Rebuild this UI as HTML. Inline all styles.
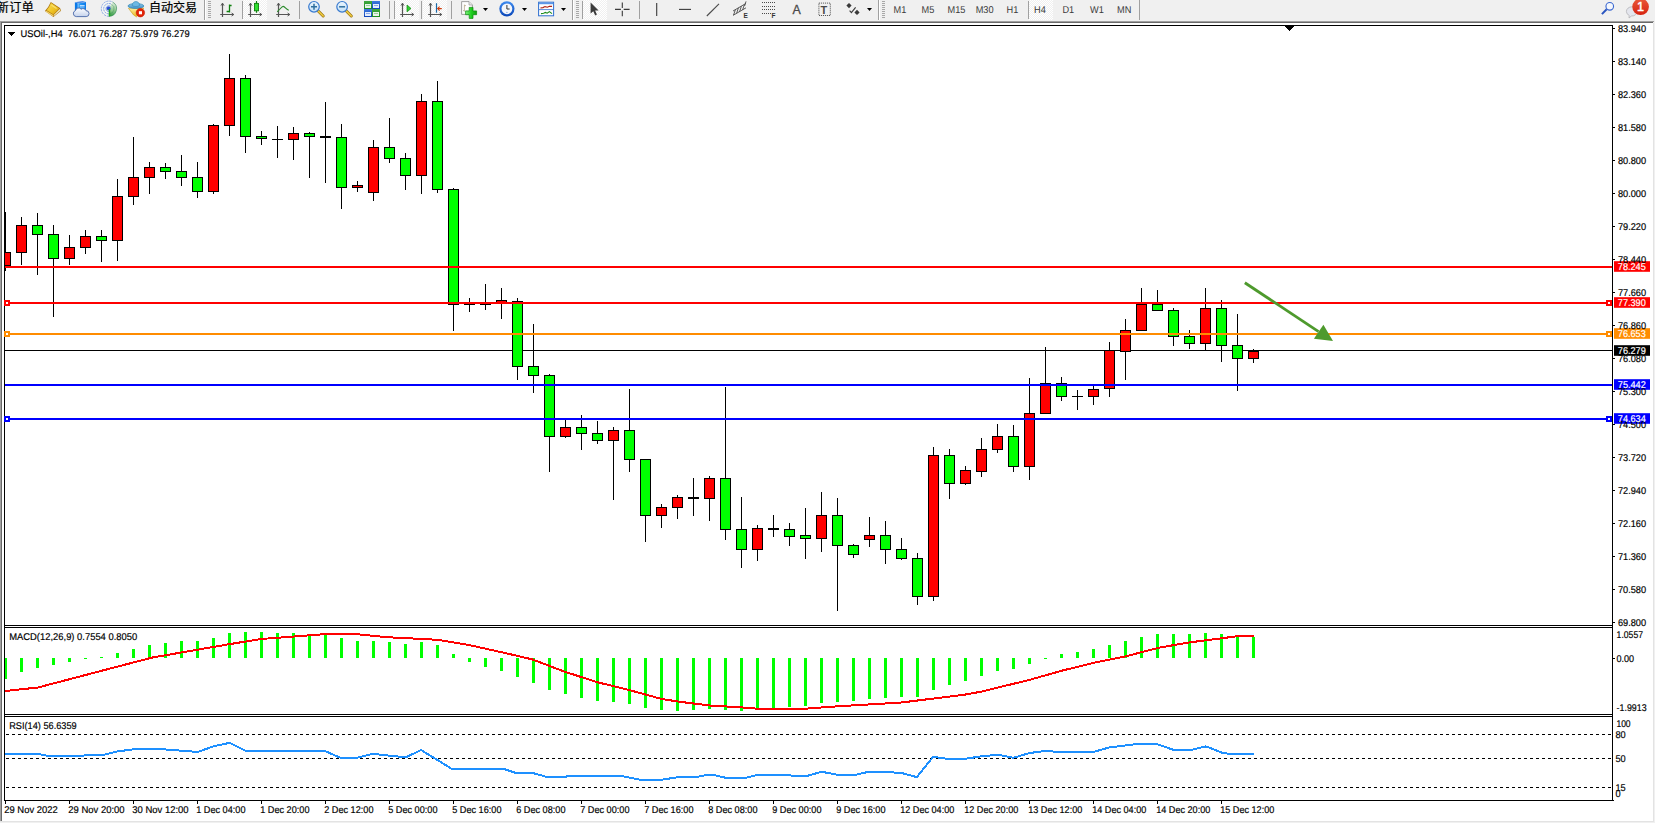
<!DOCTYPE html>
<html lang="zh-CN">
<head>
<meta charset="utf-8">
<title>USOil-,H4</title>
<style>
html,body{margin:0;padding:0;}
body{width:1655px;height:823px;overflow:hidden;background:#f0f0f0;position:relative;font-family:"Liberation Sans", "Noto Sans CJK SC", sans-serif;}
.white{position:absolute;left:2px;top:23px;width:1651px;height:798px;background:#fff;}
.edge-t1{position:absolute;left:0;top:21px;width:1654px;height:1px;background:#a0a0a0;}
.edge-t2{position:absolute;left:0;top:22px;width:1653px;height:1px;background:#696969;}
.edge-l1{position:absolute;left:0;top:21px;width:1px;height:800px;background:#a0a0a0;}
.edge-l2{position:absolute;left:1px;top:22px;width:1px;height:799px;background:#696969;}
.edge-r{position:absolute;left:1653px;top:23px;width:1px;height:799px;background:#e3e3e3;}
.edge-b{position:absolute;left:0;top:821px;width:1654px;height:1px;background:#e3e3e3;}
.chart{position:absolute;left:0;top:0;}
.tb{position:absolute;left:0;top:0;width:1655px;height:21px;background:#f0f0f0;overflow:hidden;}
</style>
</head>
<body>
<div class="white"></div>
<div class="edge-t1"></div><div class="edge-t2"></div>
<div class="edge-l1"></div><div class="edge-l2"></div>
<div class="edge-r"></div><div class="edge-b"></div>
<svg class="chart" width="1655" height="823" viewBox="0 0 1655 823">
<g shape-rendering="crispEdges">
<rect x="4" y="25" width="1609" height="1" fill="#000"/>
<rect x="4" y="25" width="1" height="776" fill="#000"/>
<rect x="1612" y="25" width="1" height="776" fill="#000"/>
<rect x="4" y="625" width="1609" height="1" fill="#000"/>
<rect x="4" y="627" width="1609" height="1" fill="#000"/>
<rect x="4" y="714" width="1609" height="1" fill="#000"/>
<rect x="4" y="716" width="1609" height="1" fill="#000"/>
<rect x="4" y="800" width="1610" height="1" fill="#000"/>
<rect x="5" y="350" width="1607" height="1" fill="#000"/>
<rect x="1613" y="28" width="2" height="1" fill="#000"/>
<rect x="1613" y="61" width="2" height="1" fill="#000"/>
<rect x="1613" y="94" width="2" height="1" fill="#000"/>
<rect x="1613" y="127" width="2" height="1" fill="#000"/>
<rect x="1613" y="160" width="2" height="1" fill="#000"/>
<rect x="1613" y="193" width="2" height="1" fill="#000"/>
<rect x="1613" y="226" width="2" height="1" fill="#000"/>
<rect x="1613" y="259" width="2" height="1" fill="#000"/>
<rect x="1613" y="292" width="2" height="1" fill="#000"/>
<rect x="1613" y="325" width="2" height="1" fill="#000"/>
<rect x="1613" y="358" width="2" height="1" fill="#000"/>
<rect x="1613" y="391" width="2" height="1" fill="#000"/>
<rect x="1613" y="424" width="2" height="1" fill="#000"/>
<rect x="1613" y="457" width="2" height="1" fill="#000"/>
<rect x="1613" y="490" width="2" height="1" fill="#000"/>
<rect x="1613" y="523" width="2" height="1" fill="#000"/>
<rect x="1613" y="556" width="2" height="1" fill="#000"/>
<rect x="1613" y="589" width="2" height="1" fill="#000"/>
<rect x="1613" y="622" width="2" height="1" fill="#000"/>
<rect x="1613" y="658" width="2" height="1" fill="#000"/>
<rect x="5" y="801" width="1" height="3" fill="#000"/>
<rect x="69" y="801" width="1" height="3" fill="#000"/>
<rect x="133" y="801" width="1" height="3" fill="#000"/>
<rect x="197" y="801" width="1" height="3" fill="#000"/>
<rect x="261" y="801" width="1" height="3" fill="#000"/>
<rect x="325" y="801" width="1" height="3" fill="#000"/>
<rect x="389" y="801" width="1" height="3" fill="#000"/>
<rect x="453" y="801" width="1" height="3" fill="#000"/>
<rect x="517" y="801" width="1" height="3" fill="#000"/>
<rect x="581" y="801" width="1" height="3" fill="#000"/>
<rect x="645" y="801" width="1" height="3" fill="#000"/>
<rect x="709" y="801" width="1" height="3" fill="#000"/>
<rect x="773" y="801" width="1" height="3" fill="#000"/>
<rect x="837" y="801" width="1" height="3" fill="#000"/>
<rect x="901" y="801" width="1" height="3" fill="#000"/>
<rect x="965" y="801" width="1" height="3" fill="#000"/>
<rect x="1029" y="801" width="1" height="3" fill="#000"/>
<rect x="1093" y="801" width="1" height="3" fill="#000"/>
<rect x="1157" y="801" width="1" height="3" fill="#000"/>
<rect x="1221" y="801" width="1" height="3" fill="#000"/>
<rect x="5" y="212" width="1" height="59" fill="#000"/>
<rect x="5" y="252" width="6" height="14" fill="#000"/>
<rect x="5" y="253" width="5" height="12" fill="#ff0000"/>
<rect x="21" y="217" width="1" height="48" fill="#000"/>
<rect x="16" y="225" width="11" height="28" fill="#000"/>
<rect x="17" y="226" width="9" height="26" fill="#ff0000"/>
<rect x="37" y="213" width="1" height="62" fill="#000"/>
<rect x="32" y="225" width="11" height="10" fill="#000"/>
<rect x="33" y="226" width="9" height="8" fill="#00ff00"/>
<rect x="53" y="225" width="1" height="92" fill="#000"/>
<rect x="48" y="234" width="11" height="25" fill="#000"/>
<rect x="49" y="235" width="9" height="23" fill="#00ff00"/>
<rect x="69" y="235" width="1" height="30" fill="#000"/>
<rect x="64" y="247" width="11" height="12" fill="#000"/>
<rect x="65" y="248" width="9" height="10" fill="#ff0000"/>
<rect x="85" y="230" width="1" height="24" fill="#000"/>
<rect x="80" y="236" width="11" height="12" fill="#000"/>
<rect x="81" y="237" width="9" height="10" fill="#ff0000"/>
<rect x="101" y="230" width="1" height="32" fill="#000"/>
<rect x="96" y="236" width="11" height="5" fill="#000"/>
<rect x="97" y="237" width="9" height="3" fill="#00ff00"/>
<rect x="117" y="179" width="1" height="82" fill="#000"/>
<rect x="112" y="196" width="11" height="45" fill="#000"/>
<rect x="113" y="197" width="9" height="43" fill="#ff0000"/>
<rect x="133" y="137" width="1" height="68" fill="#000"/>
<rect x="128" y="177" width="11" height="20" fill="#000"/>
<rect x="129" y="178" width="9" height="18" fill="#ff0000"/>
<rect x="149" y="162" width="1" height="32" fill="#000"/>
<rect x="144" y="167" width="11" height="11" fill="#000"/>
<rect x="145" y="168" width="9" height="9" fill="#ff0000"/>
<rect x="165" y="163" width="1" height="16" fill="#000"/>
<rect x="160" y="167" width="11" height="5" fill="#000"/>
<rect x="161" y="168" width="9" height="3" fill="#00ff00"/>
<rect x="181" y="155" width="1" height="31" fill="#000"/>
<rect x="176" y="171" width="11" height="7" fill="#000"/>
<rect x="177" y="172" width="9" height="5" fill="#00ff00"/>
<rect x="197" y="162" width="1" height="36" fill="#000"/>
<rect x="192" y="177" width="11" height="15" fill="#000"/>
<rect x="193" y="178" width="9" height="13" fill="#00ff00"/>
<rect x="213" y="124" width="1" height="70" fill="#000"/>
<rect x="208" y="125" width="11" height="67" fill="#000"/>
<rect x="209" y="126" width="9" height="65" fill="#ff0000"/>
<rect x="229" y="54" width="1" height="82" fill="#000"/>
<rect x="224" y="78" width="11" height="48" fill="#000"/>
<rect x="225" y="79" width="9" height="46" fill="#ff0000"/>
<rect x="245" y="75" width="1" height="78" fill="#000"/>
<rect x="240" y="78" width="11" height="59" fill="#000"/>
<rect x="241" y="79" width="9" height="57" fill="#00ff00"/>
<rect x="261" y="131" width="1" height="14" fill="#000"/>
<rect x="256" y="136" width="11" height="3" fill="#000"/>
<rect x="257" y="137" width="9" height="1" fill="#00ff00"/>
<rect x="277" y="126" width="1" height="32" fill="#000"/>
<rect x="272" y="139" width="11" height="1" fill="#000"/>
<rect x="293" y="127" width="1" height="33" fill="#000"/>
<rect x="288" y="133" width="11" height="7" fill="#000"/>
<rect x="289" y="134" width="9" height="5" fill="#ff0000"/>
<rect x="309" y="132" width="1" height="46" fill="#000"/>
<rect x="304" y="133" width="11" height="4" fill="#000"/>
<rect x="305" y="134" width="9" height="2" fill="#00ff00"/>
<rect x="325" y="102" width="1" height="81" fill="#000"/>
<rect x="320" y="136" width="11" height="2" fill="#000"/>
<rect x="341" y="124" width="1" height="85" fill="#000"/>
<rect x="336" y="137" width="11" height="51" fill="#000"/>
<rect x="337" y="138" width="9" height="49" fill="#00ff00"/>
<rect x="357" y="181" width="1" height="11" fill="#000"/>
<rect x="352" y="185" width="11" height="3" fill="#000"/>
<rect x="353" y="186" width="9" height="1" fill="#ff0000"/>
<rect x="373" y="140" width="1" height="61" fill="#000"/>
<rect x="368" y="147" width="11" height="46" fill="#000"/>
<rect x="369" y="148" width="9" height="44" fill="#ff0000"/>
<rect x="389" y="118" width="1" height="45" fill="#000"/>
<rect x="384" y="147" width="11" height="12" fill="#000"/>
<rect x="385" y="148" width="9" height="10" fill="#00ff00"/>
<rect x="405" y="153" width="1" height="37" fill="#000"/>
<rect x="400" y="158" width="11" height="18" fill="#000"/>
<rect x="401" y="159" width="9" height="16" fill="#00ff00"/>
<rect x="421" y="94" width="1" height="100" fill="#000"/>
<rect x="416" y="101" width="11" height="75" fill="#000"/>
<rect x="417" y="102" width="9" height="73" fill="#ff0000"/>
<rect x="437" y="81" width="1" height="112" fill="#000"/>
<rect x="432" y="101" width="11" height="89" fill="#000"/>
<rect x="433" y="102" width="9" height="87" fill="#00ff00"/>
<rect x="453" y="188" width="1" height="143" fill="#000"/>
<rect x="448" y="189" width="11" height="116" fill="#000"/>
<rect x="449" y="190" width="9" height="114" fill="#00ff00"/>
<rect x="469" y="298" width="1" height="14" fill="#000"/>
<rect x="464" y="304" width="11" height="1" fill="#000"/>
<rect x="485" y="284" width="1" height="26" fill="#000"/>
<rect x="480" y="304" width="11" height="1" fill="#000"/>
<rect x="501" y="288" width="1" height="31" fill="#000"/>
<rect x="496" y="300" width="11" height="3" fill="#000"/>
<rect x="497" y="301" width="9" height="1" fill="#ff0000"/>
<rect x="517" y="298" width="1" height="82" fill="#000"/>
<rect x="512" y="301" width="11" height="66" fill="#000"/>
<rect x="513" y="302" width="9" height="64" fill="#00ff00"/>
<rect x="533" y="324" width="1" height="69" fill="#000"/>
<rect x="528" y="366" width="11" height="10" fill="#000"/>
<rect x="529" y="367" width="9" height="8" fill="#00ff00"/>
<rect x="549" y="374" width="1" height="98" fill="#000"/>
<rect x="544" y="375" width="11" height="62" fill="#000"/>
<rect x="545" y="376" width="9" height="60" fill="#00ff00"/>
<rect x="565" y="420" width="1" height="18" fill="#000"/>
<rect x="560" y="427" width="11" height="10" fill="#000"/>
<rect x="561" y="428" width="9" height="8" fill="#ff0000"/>
<rect x="581" y="415" width="1" height="35" fill="#000"/>
<rect x="576" y="427" width="11" height="7" fill="#000"/>
<rect x="577" y="428" width="9" height="5" fill="#00ff00"/>
<rect x="597" y="421" width="1" height="23" fill="#000"/>
<rect x="592" y="433" width="11" height="8" fill="#000"/>
<rect x="593" y="434" width="9" height="6" fill="#00ff00"/>
<rect x="613" y="427" width="1" height="73" fill="#000"/>
<rect x="608" y="430" width="11" height="11" fill="#000"/>
<rect x="609" y="431" width="9" height="9" fill="#ff0000"/>
<rect x="629" y="389" width="1" height="83" fill="#000"/>
<rect x="624" y="430" width="11" height="30" fill="#000"/>
<rect x="625" y="431" width="9" height="28" fill="#00ff00"/>
<rect x="645" y="459" width="1" height="83" fill="#000"/>
<rect x="640" y="459" width="11" height="57" fill="#000"/>
<rect x="641" y="460" width="9" height="55" fill="#00ff00"/>
<rect x="661" y="504" width="1" height="24" fill="#000"/>
<rect x="656" y="507" width="11" height="9" fill="#000"/>
<rect x="657" y="508" width="9" height="7" fill="#ff0000"/>
<rect x="677" y="495" width="1" height="24" fill="#000"/>
<rect x="672" y="497" width="11" height="11" fill="#000"/>
<rect x="673" y="498" width="9" height="9" fill="#ff0000"/>
<rect x="693" y="478" width="1" height="38" fill="#000"/>
<rect x="688" y="497" width="11" height="2" fill="#000"/>
<rect x="709" y="476" width="1" height="45" fill="#000"/>
<rect x="704" y="478" width="11" height="21" fill="#000"/>
<rect x="705" y="479" width="9" height="19" fill="#ff0000"/>
<rect x="725" y="387" width="1" height="153" fill="#000"/>
<rect x="720" y="478" width="11" height="52" fill="#000"/>
<rect x="721" y="479" width="9" height="50" fill="#00ff00"/>
<rect x="741" y="497" width="1" height="71" fill="#000"/>
<rect x="736" y="529" width="11" height="21" fill="#000"/>
<rect x="737" y="530" width="9" height="19" fill="#00ff00"/>
<rect x="757" y="525" width="1" height="36" fill="#000"/>
<rect x="752" y="528" width="11" height="22" fill="#000"/>
<rect x="753" y="529" width="9" height="20" fill="#ff0000"/>
<rect x="773" y="515" width="1" height="22" fill="#000"/>
<rect x="768" y="528" width="11" height="2" fill="#000"/>
<rect x="789" y="523" width="1" height="23" fill="#000"/>
<rect x="784" y="529" width="11" height="8" fill="#000"/>
<rect x="785" y="530" width="9" height="6" fill="#00ff00"/>
<rect x="805" y="508" width="1" height="51" fill="#000"/>
<rect x="800" y="535" width="11" height="4" fill="#000"/>
<rect x="801" y="536" width="9" height="2" fill="#00ff00"/>
<rect x="821" y="492" width="1" height="60" fill="#000"/>
<rect x="816" y="515" width="11" height="24" fill="#000"/>
<rect x="817" y="516" width="9" height="22" fill="#ff0000"/>
<rect x="837" y="498" width="1" height="113" fill="#000"/>
<rect x="832" y="515" width="11" height="31" fill="#000"/>
<rect x="833" y="516" width="9" height="29" fill="#00ff00"/>
<rect x="853" y="544" width="1" height="14" fill="#000"/>
<rect x="848" y="545" width="11" height="10" fill="#000"/>
<rect x="849" y="546" width="9" height="8" fill="#00ff00"/>
<rect x="869" y="517" width="1" height="30" fill="#000"/>
<rect x="864" y="535" width="11" height="5" fill="#000"/>
<rect x="865" y="536" width="9" height="3" fill="#ff0000"/>
<rect x="885" y="521" width="1" height="43" fill="#000"/>
<rect x="880" y="535" width="11" height="15" fill="#000"/>
<rect x="881" y="536" width="9" height="13" fill="#00ff00"/>
<rect x="901" y="538" width="1" height="22" fill="#000"/>
<rect x="896" y="549" width="11" height="10" fill="#000"/>
<rect x="897" y="550" width="9" height="8" fill="#00ff00"/>
<rect x="917" y="553" width="1" height="52" fill="#000"/>
<rect x="912" y="558" width="11" height="39" fill="#000"/>
<rect x="913" y="559" width="9" height="37" fill="#00ff00"/>
<rect x="933" y="447" width="1" height="154" fill="#000"/>
<rect x="928" y="455" width="11" height="142" fill="#000"/>
<rect x="929" y="456" width="9" height="140" fill="#ff0000"/>
<rect x="949" y="449" width="1" height="50" fill="#000"/>
<rect x="944" y="455" width="11" height="29" fill="#000"/>
<rect x="945" y="456" width="9" height="27" fill="#00ff00"/>
<rect x="965" y="466" width="1" height="19" fill="#000"/>
<rect x="960" y="470" width="11" height="14" fill="#000"/>
<rect x="961" y="471" width="9" height="12" fill="#ff0000"/>
<rect x="981" y="438" width="1" height="39" fill="#000"/>
<rect x="976" y="449" width="11" height="23" fill="#000"/>
<rect x="977" y="450" width="9" height="21" fill="#ff0000"/>
<rect x="997" y="424" width="1" height="29" fill="#000"/>
<rect x="992" y="436" width="11" height="14" fill="#000"/>
<rect x="993" y="437" width="9" height="12" fill="#ff0000"/>
<rect x="1013" y="425" width="1" height="47" fill="#000"/>
<rect x="1008" y="436" width="11" height="31" fill="#000"/>
<rect x="1009" y="437" width="9" height="29" fill="#00ff00"/>
<rect x="1029" y="378" width="1" height="102" fill="#000"/>
<rect x="1024" y="413" width="11" height="54" fill="#000"/>
<rect x="1025" y="414" width="9" height="52" fill="#ff0000"/>
<rect x="1045" y="347" width="1" height="67" fill="#000"/>
<rect x="1040" y="383" width="11" height="31" fill="#000"/>
<rect x="1041" y="384" width="9" height="29" fill="#ff0000"/>
<rect x="1061" y="377" width="1" height="24" fill="#000"/>
<rect x="1056" y="383" width="11" height="14" fill="#000"/>
<rect x="1057" y="384" width="9" height="12" fill="#00ff00"/>
<rect x="1077" y="390" width="1" height="20" fill="#000"/>
<rect x="1072" y="396" width="11" height="1" fill="#000"/>
<rect x="1093" y="386" width="1" height="19" fill="#000"/>
<rect x="1088" y="389" width="11" height="8" fill="#000"/>
<rect x="1089" y="390" width="9" height="6" fill="#ff0000"/>
<rect x="1109" y="342" width="1" height="55" fill="#000"/>
<rect x="1104" y="350" width="11" height="39" fill="#000"/>
<rect x="1105" y="351" width="9" height="37" fill="#ff0000"/>
<rect x="1125" y="319" width="1" height="61" fill="#000"/>
<rect x="1120" y="330" width="11" height="22" fill="#000"/>
<rect x="1121" y="331" width="9" height="20" fill="#ff0000"/>
<rect x="1141" y="288" width="1" height="43" fill="#000"/>
<rect x="1136" y="304" width="11" height="27" fill="#000"/>
<rect x="1137" y="305" width="9" height="25" fill="#ff0000"/>
<rect x="1157" y="290" width="1" height="21" fill="#000"/>
<rect x="1152" y="304" width="11" height="7" fill="#000"/>
<rect x="1153" y="305" width="9" height="5" fill="#00ff00"/>
<rect x="1173" y="308" width="1" height="38" fill="#000"/>
<rect x="1168" y="310" width="11" height="27" fill="#000"/>
<rect x="1169" y="311" width="9" height="25" fill="#00ff00"/>
<rect x="1189" y="330" width="1" height="19" fill="#000"/>
<rect x="1184" y="336" width="11" height="8" fill="#000"/>
<rect x="1185" y="337" width="9" height="6" fill="#00ff00"/>
<rect x="1205" y="288" width="1" height="63" fill="#000"/>
<rect x="1200" y="308" width="11" height="36" fill="#000"/>
<rect x="1201" y="309" width="9" height="34" fill="#ff0000"/>
<rect x="1221" y="300" width="1" height="62" fill="#000"/>
<rect x="1216" y="308" width="11" height="38" fill="#000"/>
<rect x="1217" y="309" width="9" height="36" fill="#00ff00"/>
<rect x="1237" y="314" width="1" height="77" fill="#000"/>
<rect x="1232" y="345" width="11" height="14" fill="#000"/>
<rect x="1233" y="346" width="9" height="12" fill="#00ff00"/>
<rect x="1253" y="349" width="1" height="14" fill="#000"/>
<rect x="1248" y="351" width="11" height="8" fill="#000"/>
<rect x="1249" y="352" width="9" height="6" fill="#ff0000"/>
<rect x="5" y="658" width="2" height="21" fill="#00ff00"/>
<rect x="20" y="658" width="3" height="14" fill="#00ff00"/>
<rect x="36" y="658" width="3" height="10" fill="#00ff00"/>
<rect x="52" y="658" width="3" height="7" fill="#00ff00"/>
<rect x="68" y="658" width="3" height="4" fill="#00ff00"/>
<rect x="84" y="658" width="3" height="1" fill="#00ff00"/>
<rect x="100" y="657" width="3" height="1" fill="#00ff00"/>
<rect x="116" y="653" width="3" height="5" fill="#00ff00"/>
<rect x="132" y="649" width="3" height="9" fill="#00ff00"/>
<rect x="148" y="645" width="3" height="13" fill="#00ff00"/>
<rect x="164" y="643" width="3" height="15" fill="#00ff00"/>
<rect x="180" y="641" width="3" height="17" fill="#00ff00"/>
<rect x="196" y="641" width="3" height="17" fill="#00ff00"/>
<rect x="212" y="638" width="3" height="20" fill="#00ff00"/>
<rect x="228" y="633" width="3" height="25" fill="#00ff00"/>
<rect x="244" y="632" width="3" height="26" fill="#00ff00"/>
<rect x="260" y="632" width="3" height="26" fill="#00ff00"/>
<rect x="276" y="633" width="3" height="25" fill="#00ff00"/>
<rect x="292" y="633" width="3" height="25" fill="#00ff00"/>
<rect x="308" y="635" width="3" height="23" fill="#00ff00"/>
<rect x="324" y="635" width="3" height="23" fill="#00ff00"/>
<rect x="340" y="638" width="3" height="20" fill="#00ff00"/>
<rect x="356" y="641" width="3" height="17" fill="#00ff00"/>
<rect x="372" y="641" width="3" height="17" fill="#00ff00"/>
<rect x="388" y="642" width="3" height="16" fill="#00ff00"/>
<rect x="404" y="644" width="3" height="14" fill="#00ff00"/>
<rect x="420" y="642" width="3" height="16" fill="#00ff00"/>
<rect x="436" y="645" width="3" height="13" fill="#00ff00"/>
<rect x="452" y="654" width="3" height="4" fill="#00ff00"/>
<rect x="468" y="658" width="3" height="4" fill="#00ff00"/>
<rect x="484" y="658" width="3" height="9" fill="#00ff00"/>
<rect x="500" y="658" width="3" height="13" fill="#00ff00"/>
<rect x="516" y="658" width="3" height="19" fill="#00ff00"/>
<rect x="532" y="658" width="3" height="25" fill="#00ff00"/>
<rect x="548" y="658" width="3" height="32" fill="#00ff00"/>
<rect x="564" y="658" width="3" height="36" fill="#00ff00"/>
<rect x="580" y="658" width="3" height="40" fill="#00ff00"/>
<rect x="596" y="658" width="3" height="43" fill="#00ff00"/>
<rect x="612" y="658" width="3" height="44" fill="#00ff00"/>
<rect x="628" y="658" width="3" height="46" fill="#00ff00"/>
<rect x="644" y="658" width="3" height="50" fill="#00ff00"/>
<rect x="660" y="658" width="3" height="52" fill="#00ff00"/>
<rect x="676" y="658" width="3" height="53" fill="#00ff00"/>
<rect x="692" y="658" width="3" height="52" fill="#00ff00"/>
<rect x="708" y="658" width="3" height="51" fill="#00ff00"/>
<rect x="724" y="658" width="3" height="52" fill="#00ff00"/>
<rect x="740" y="658" width="3" height="53" fill="#00ff00"/>
<rect x="756" y="658" width="3" height="52" fill="#00ff00"/>
<rect x="772" y="658" width="3" height="51" fill="#00ff00"/>
<rect x="788" y="658" width="3" height="49" fill="#00ff00"/>
<rect x="804" y="658" width="3" height="48" fill="#00ff00"/>
<rect x="820" y="658" width="3" height="45" fill="#00ff00"/>
<rect x="836" y="658" width="3" height="44" fill="#00ff00"/>
<rect x="852" y="658" width="3" height="43" fill="#00ff00"/>
<rect x="868" y="658" width="3" height="41" fill="#00ff00"/>
<rect x="884" y="658" width="3" height="40" fill="#00ff00"/>
<rect x="900" y="658" width="3" height="39" fill="#00ff00"/>
<rect x="916" y="658" width="3" height="39" fill="#00ff00"/>
<rect x="932" y="658" width="3" height="32" fill="#00ff00"/>
<rect x="948" y="658" width="3" height="27" fill="#00ff00"/>
<rect x="964" y="658" width="3" height="23" fill="#00ff00"/>
<rect x="980" y="658" width="3" height="18" fill="#00ff00"/>
<rect x="996" y="658" width="3" height="13" fill="#00ff00"/>
<rect x="1012" y="658" width="3" height="11" fill="#00ff00"/>
<rect x="1028" y="658" width="3" height="6" fill="#00ff00"/>
<rect x="1044" y="658" width="3" height="1" fill="#00ff00"/>
<rect x="1060" y="654" width="3" height="4" fill="#00ff00"/>
<rect x="1076" y="652" width="3" height="6" fill="#00ff00"/>
<rect x="1092" y="649" width="3" height="9" fill="#00ff00"/>
<rect x="1108" y="645" width="3" height="13" fill="#00ff00"/>
<rect x="1124" y="641" width="3" height="17" fill="#00ff00"/>
<rect x="1140" y="637" width="3" height="21" fill="#00ff00"/>
<rect x="1156" y="634" width="3" height="24" fill="#00ff00"/>
<rect x="1172" y="634" width="3" height="24" fill="#00ff00"/>
<rect x="1188" y="634" width="3" height="24" fill="#00ff00"/>
<rect x="1204" y="633" width="3" height="25" fill="#00ff00"/>
<rect x="1220" y="634" width="3" height="24" fill="#00ff00"/>
<rect x="1236" y="635" width="3" height="23" fill="#00ff00"/>
<rect x="1252" y="637" width="3" height="21" fill="#00ff00"/>
<path d="M6 734.5H1612" stroke="#000" stroke-width="1" stroke-dasharray="3 3" fill="none"/>
<path d="M6 758.5H1612" stroke="#000" stroke-width="1" stroke-dasharray="3 3" fill="none"/>
<path d="M6 787.5H1612" stroke="#000" stroke-width="1" stroke-dasharray="3 3" fill="none"/>
</g>
<polyline shape-rendering="crispEdges" fill="none" stroke="#ff0000" stroke-width="2" stroke-linejoin="round" points="5,691 38,687.5 101.5,670.8 152,657.6 228,644.4 261,639 294,636.5 327,634 355,634 388,637.3 400,637.8 438,639.8 468.5,644.9 501.5,652.2 532,659.3 565,671.8 598,682.4 628.4,689.8 661.4,698.9 679,701.7 709.6,705.5 740,707.3 758,708.8 803.5,708.8 838,706.3 901.5,702.5 932,698.7 965,694.6 981.5,691.6 998,687.5 1028.4,680.2 1061.4,670.8 1094.4,662.6 1125,656.5 1158,647.9 1188,642.6 1220,638.5 1239,636 1253.5,636"/>
<polyline shape-rendering="crispEdges" fill="none" stroke="#1e90ff" stroke-width="2" stroke-linejoin="round" points="5,754.5 15,753.5 35.5,753.5 48,755.8 76,755.8 104,754.8 117,751.5 134.5,749.2 162.5,749.2 198,752 213,746.4 229.7,742.8 246,751 325,751 340,757.6 358,757.6 373,753.8 388,755.5 403.5,757 406,757.3 421,750 435.5,758.8 452,769 504,769 515.5,772.8 532,772.8 547,777 565,777 569,775.8 621,775.8 641,780 660,780 679,777 697,777 707,774.8 713.5,774.8 726,777.9 745,777.9 758,774.8 788,774.8 792,775.8 807.6,775.8 821.6,771.8 838,774.8 856,774.8 868.5,771.8 883.8,771.8 901.5,773 916.8,777.1 933.2,756.8 947.2,758.8 965,758.8 981.5,756.3 998,754.8 1013.2,757.8 1029.7,753 1045,751 1061.4,752 1093,752 1109.6,747.4 1137.6,743.9 1156.6,743.9 1173,749.7 1192,749.7 1206,746.4 1222,752.7 1229,753.9 1253.5,753.9"/>
<g shape-rendering="crispEdges">
<rect x="5" y="266" width="1607" height="2" fill="#ff0000"/>
<rect x="5" y="302" width="1607" height="2" fill="#ff0000"/>
<rect x="4" y="300" width="6" height="6" fill="#ff0000"/>
<rect x="6" y="302" width="2" height="2" fill="#fff"/>
<rect x="1606" y="300" width="6" height="6" fill="#ff0000"/>
<rect x="1608" y="302" width="2" height="2" fill="#fff"/>
<rect x="5" y="333" width="1607" height="2" fill="#ff8c00"/>
<rect x="4" y="331" width="6" height="6" fill="#ff8c00"/>
<rect x="6" y="333" width="2" height="2" fill="#fff"/>
<rect x="1606" y="331" width="6" height="6" fill="#ff8c00"/>
<rect x="1608" y="333" width="2" height="2" fill="#fff"/>
<rect x="5" y="384" width="1607" height="2" fill="#0000ff"/>
<rect x="5" y="418" width="1607" height="2" fill="#0000ff"/>
<rect x="4" y="416" width="6" height="6" fill="#0000ff"/>
<rect x="6" y="418" width="2" height="2" fill="#fff"/>
<rect x="1606" y="416" width="6" height="6" fill="#0000ff"/>
<rect x="1608" y="418" width="2" height="2" fill="#fff"/>
<path d="M1285 26h9v1h-1v1h-1v1h-1v1h-1v1h-1v-1h-1v-1h-1v-1h-1v-1h-1z" fill="#000"/>
</g>
<path d="M1244.85 282.75L1318.6 331.7" stroke="#4e9a2d" stroke-width="2.8" fill="none"/>
<path d="M1333 341.1L1323.4 324.7L1313.9 338.8z" fill="#4e9a2d"/>
<g>
<rect x="1614" y="261.2" width="36" height="10.6" fill="#ff0000"/>
<rect x="1614" y="297.2" width="36" height="10.6" fill="#ff0000"/>
<rect x="1614" y="328.2" width="36" height="10.6" fill="#ff8c00"/>
<rect x="1614" y="379.2" width="36" height="10.6" fill="#0000ff"/>
<rect x="1614" y="413.2" width="36" height="10.6" fill="#0000ff"/>
<rect x="1614" y="345.2" width="36" height="10.6" fill="#000"/>
</g>
<g font-family='"Liberation Sans", "Noto Sans CJK SC", sans-serif' font-size="9.8px" fill="#000" stroke="#000" stroke-width=".18" text-rendering="geometricPrecision">
<text transform="translate(1617.9 32) scale(0.941 1)" textLength="29.97" lengthAdjust="spacingAndGlyphs">83.940</text>
<text transform="translate(1617.9 65) scale(0.941 1)" textLength="29.97" lengthAdjust="spacingAndGlyphs">83.140</text>
<text transform="translate(1617.9 98) scale(0.941 1)" textLength="29.97" lengthAdjust="spacingAndGlyphs">82.360</text>
<text transform="translate(1617.9 131) scale(0.941 1)" textLength="29.97" lengthAdjust="spacingAndGlyphs">81.580</text>
<text transform="translate(1617.9 164) scale(0.941 1)" textLength="29.97" lengthAdjust="spacingAndGlyphs">80.800</text>
<text transform="translate(1617.9 197) scale(0.941 1)" textLength="29.97" lengthAdjust="spacingAndGlyphs">80.000</text>
<text transform="translate(1617.9 230) scale(0.941 1)" textLength="29.97" lengthAdjust="spacingAndGlyphs">79.220</text>
<text transform="translate(1617.9 263) scale(0.941 1)" textLength="29.97" lengthAdjust="spacingAndGlyphs">78.440</text>
<text transform="translate(1617.9 296) scale(0.941 1)" textLength="29.97" lengthAdjust="spacingAndGlyphs">77.660</text>
<text transform="translate(1617.9 329) scale(0.941 1)" textLength="29.97" lengthAdjust="spacingAndGlyphs">76.860</text>
<text transform="translate(1617.9 362) scale(0.941 1)" textLength="29.97" lengthAdjust="spacingAndGlyphs">76.080</text>
<text transform="translate(1617.9 395) scale(0.941 1)" textLength="29.97" lengthAdjust="spacingAndGlyphs">75.300</text>
<text transform="translate(1617.9 428) scale(0.941 1)" textLength="29.97" lengthAdjust="spacingAndGlyphs">74.500</text>
<text transform="translate(1617.9 461) scale(0.941 1)" textLength="29.97" lengthAdjust="spacingAndGlyphs">73.720</text>
<text transform="translate(1617.9 494) scale(0.941 1)" textLength="29.97" lengthAdjust="spacingAndGlyphs">72.940</text>
<text transform="translate(1617.9 527) scale(0.941 1)" textLength="29.97" lengthAdjust="spacingAndGlyphs">72.160</text>
<text transform="translate(1617.9 560) scale(0.941 1)" textLength="29.97" lengthAdjust="spacingAndGlyphs">71.360</text>
<text transform="translate(1617.9 593) scale(0.941 1)" textLength="29.97" lengthAdjust="spacingAndGlyphs">70.580</text>
<text transform="translate(1617.9 626) scale(0.941 1)" textLength="29.97" lengthAdjust="spacingAndGlyphs">69.800</text>
<text transform="translate(1617.8 270) scale(0.941 1)" textLength="29.76" lengthAdjust="spacingAndGlyphs" fill="#fff" stroke="#fff">78.245</text>
<text transform="translate(1617.8 306) scale(0.941 1)" textLength="29.76" lengthAdjust="spacingAndGlyphs" fill="#fff" stroke="#fff">77.390</text>
<text transform="translate(1617.8 337) scale(0.941 1)" textLength="29.76" lengthAdjust="spacingAndGlyphs" fill="#fff" stroke="#fff">76.653</text>
<text transform="translate(1617.8 388) scale(0.941 1)" textLength="29.76" lengthAdjust="spacingAndGlyphs" fill="#fff" stroke="#fff">75.442</text>
<text transform="translate(1617.8 422) scale(0.941 1)" textLength="29.76" lengthAdjust="spacingAndGlyphs" fill="#fff" stroke="#fff">74.634</text>
<text transform="translate(1617.8 354) scale(0.941 1)" textLength="29.76" lengthAdjust="spacingAndGlyphs" fill="#fff" stroke="#fff">76.279</text>
<text transform="translate(1616.6 638) scale(0.941 1)" textLength="28.06" lengthAdjust="spacingAndGlyphs">1.0557</text>
<text transform="translate(1616.4 662) scale(0.941 1)" textLength="18.70" lengthAdjust="spacingAndGlyphs">0.00</text>
<text transform="translate(1616.6 711) scale(0.941 1)" textLength="31.88" lengthAdjust="spacingAndGlyphs">-1.9913</text>
<text transform="translate(1616.4 727) scale(0.941 1)" textLength="15.09" lengthAdjust="spacingAndGlyphs">100</text>
<text transform="translate(1615.4 738) scale(0.941 1)">80</text>
<text transform="translate(1615.4 762) scale(0.941 1)">50</text>
<text transform="translate(1615.4 791) scale(0.941 1)">15</text>
<text transform="translate(1615.4 797) scale(0.941 1)">0</text>
<text transform="translate(4.2 813) scale(0.941 1)" textLength="56.96" lengthAdjust="spacingAndGlyphs">29 Nov 2022</text>
<text transform="translate(68.2 813) scale(0.941 1)" textLength="59.94" lengthAdjust="spacingAndGlyphs">29 Nov 20:00</text>
<text transform="translate(132.2 813) scale(0.941 1)" textLength="59.94" lengthAdjust="spacingAndGlyphs">30 Nov 12:00</text>
<text transform="translate(196.2 813) scale(0.941 1)" textLength="52.39" lengthAdjust="spacingAndGlyphs">1 Dec 04:00</text>
<text transform="translate(260.2 813) scale(0.941 1)" textLength="52.39" lengthAdjust="spacingAndGlyphs">1 Dec 20:00</text>
<text transform="translate(324.2 813) scale(0.941 1)" textLength="52.39" lengthAdjust="spacingAndGlyphs">2 Dec 12:00</text>
<text transform="translate(388.2 813) scale(0.941 1)" textLength="52.39" lengthAdjust="spacingAndGlyphs">5 Dec 00:00</text>
<text transform="translate(452.2 813) scale(0.941 1)" textLength="52.39" lengthAdjust="spacingAndGlyphs">5 Dec 16:00</text>
<text transform="translate(516.2 813) scale(0.941 1)" textLength="52.39" lengthAdjust="spacingAndGlyphs">6 Dec 08:00</text>
<text transform="translate(580.2 813) scale(0.941 1)" textLength="52.39" lengthAdjust="spacingAndGlyphs">7 Dec 00:00</text>
<text transform="translate(644.2 813) scale(0.941 1)" textLength="52.39" lengthAdjust="spacingAndGlyphs">7 Dec 16:00</text>
<text transform="translate(708.2 813) scale(0.941 1)" textLength="52.39" lengthAdjust="spacingAndGlyphs">8 Dec 08:00</text>
<text transform="translate(772.2 813) scale(0.941 1)" textLength="52.39" lengthAdjust="spacingAndGlyphs">9 Dec 00:00</text>
<text transform="translate(836.2 813) scale(0.941 1)" textLength="52.39" lengthAdjust="spacingAndGlyphs">9 Dec 16:00</text>
<text transform="translate(900.2 813) scale(0.941 1)" textLength="57.49" lengthAdjust="spacingAndGlyphs">12 Dec 04:00</text>
<text transform="translate(964.2 813) scale(0.941 1)" textLength="57.49" lengthAdjust="spacingAndGlyphs">12 Dec 20:00</text>
<text transform="translate(1028.2 813) scale(0.941 1)" textLength="57.49" lengthAdjust="spacingAndGlyphs">13 Dec 12:00</text>
<text transform="translate(1092.2 813) scale(0.941 1)" textLength="57.49" lengthAdjust="spacingAndGlyphs">14 Dec 04:00</text>
<text transform="translate(1156.2 813) scale(0.941 1)" textLength="57.49" lengthAdjust="spacingAndGlyphs">14 Dec 20:00</text>
<text transform="translate(1220.2 813) scale(0.941 1)" textLength="57.49" lengthAdjust="spacingAndGlyphs">15 Dec 12:00</text>
<text transform="translate(20.6 37) scale(0.941 1)" textLength="179.60" lengthAdjust="spacingAndGlyphs" xml:space="preserve">USOil-,H4  76.071 76.287 75.979 76.279</text>
<text transform="translate(9.2 640) scale(0.941 1)" textLength="136.03" lengthAdjust="spacingAndGlyphs">MACD(12,26,9) 0.7554 0.8050</text>
<text transform="translate(9.2 729) scale(0.941 1)" textLength="71.73" lengthAdjust="spacingAndGlyphs">RSI(14) 56.6359</text>
</g>
<path shape-rendering="crispEdges" d="M8 32h7v1h-1v1h-1v1h-1v1h-1v-1h-1v-1h-1v-1h-1z" fill="#000"/>
</svg>
<div class="tb">
<svg width="1655" height="21" viewBox="0 0 1655 21" style="position:absolute;left:0;top:0">
<defs>
<linearGradient id="gold" x1="0" y1="0" x2="1" y2="1"><stop offset="0" stop-color="#f9de5a"/><stop offset=".55" stop-color="#efc424"/><stop offset="1" stop-color="#d49a14"/></linearGradient>
<linearGradient id="srv" x1="0" y1="0" x2="1" y2="0"><stop offset="0" stop-color="#2fa4fa"/><stop offset="1" stop-color="#0a78e8"/></linearGradient>
<linearGradient id="cloud" x1="0" y1="0" x2="0" y2="1"><stop offset="0" stop-color="#ffffff"/><stop offset="1" stop-color="#c4d2ec"/></linearGradient>
<linearGradient id="badge" x1="0" y1="0" x2="0" y2="1"><stop offset="0" stop-color="#ea5a3a"/><stop offset="1" stop-color="#d6220f"/></linearGradient>
<linearGradient id="hat" x1="0" y1="0" x2="0" y2="1"><stop offset="0" stop-color="#8fc8ea"/><stop offset="1" stop-color="#3f8fca"/></linearGradient>
<linearGradient id="face" x1="0" y1="0" x2="0" y2="1"><stop offset="0" stop-color="#fff0a0"/><stop offset="1" stop-color="#e9b820"/></linearGradient>
<linearGradient id="grn" x1="0" y1="0" x2="1" y2="0"><stop offset="0" stop-color="#7ff07f"/><stop offset=".5" stop-color="#20d020"/><stop offset="1" stop-color="#10a010"/></linearGradient>
<linearGradient id="clk" x1="0" y1="0" x2="0" y2="1"><stop offset="0" stop-color="#3f8cf0"/><stop offset="1" stop-color="#0b47b8"/></linearGradient>
<linearGradient id="lens" x1="0" y1="0" x2="0" y2="1"><stop offset="0" stop-color="#eaf5fd"/><stop offset="1" stop-color="#c4e0f6"/></linearGradient>
<linearGradient id="tg" x1="0" y1="0" x2="0" y2="1"><stop offset="0" stop-color="#3fa83f"/><stop offset="1" stop-color="#1f8a1f"/></linearGradient>
<linearGradient id="tbl" x1="0" y1="0" x2="0" y2="1"><stop offset="0" stop-color="#3f7ae0"/><stop offset="1" stop-color="#1044b8"/></linearGradient>
<linearGradient id="sig2" x1="0" y1="0" x2="0" y2="1"><stop offset="0" stop-color="#e4f0e4"/><stop offset=".6" stop-color="#8cc88c"/><stop offset="1" stop-color="#2f9a3f"/></linearGradient>
<radialGradient id="sig" cx=".5" cy=".5" r=".5"><stop offset="0" stop-color="#ffffff"/><stop offset="1" stop-color="#5aa85a"/></radialGradient>
<pattern id="sel" width="2" height="2" patternUnits="userSpaceOnUse"><rect width="2" height="2" fill="#f0f0f0"/><rect width="1" height="1" fill="#fff"/><rect x="1" y="1" width="1" height="1" fill="#fff"/></pattern>
<g id="axes" fill="none" stroke="#555" stroke-width="1.2"><path d="M2.5 3.2V17M0.2 14.5H13.8"/><path d="M1 5.6L2.5 3.2L4 5.6M11.6 13L13.8 14.5L11.6 16" stroke-width="1"/></g>
<path id="dd" d="M0 0h5l-2.5 3z" fill="#000"/>
<g id="grip" fill="#a8a8a8"><rect y="1" width="3" height="1"/><rect y="3" width="3" height="1"/><rect y="5" width="3" height="1"/><rect y="7" width="3" height="1"/><rect y="9" width="3" height="1"/><rect y="11" width="3" height="1"/><rect y="13" width="3" height="1"/><rect y="15" width="3" height="1"/><rect y="17" width="3" height="1"/></g>
</defs>

<!-- selected button backgrounds -->
<g shape-rendering="crispEdges">
<rect x="243" y="0" width="24" height="20" fill="url(#sel)"/>
<rect x="395" y="0" width="24" height="20" fill="url(#sel)"/>
<rect x="423" y="0" width="24" height="20" fill="url(#sel)"/>
<rect x="583" y="0" width="24" height="20" fill="url(#sel)"/>
<rect x="1029" y="0" width="24" height="20" fill="url(#sel)"/>
<!-- separators -->
<g fill="#a0a0a0">
<rect x="204" y="0" width="1" height="20"/><rect x="242" y="1" width="1" height="18"/><rect x="299" y="1" width="1" height="18"/>
<rect x="389" y="1" width="1" height="18"/><rect x="394" y="1" width="1" height="18"/><rect x="421" y="1" width="1" height="18"/>
<rect x="451" y="1" width="1" height="18"/><rect x="572" y="0" width="1" height="20"/><rect x="582" y="1" width="1" height="18"/>
<rect x="639" y="1" width="1" height="18"/><rect x="878" y="0" width="1" height="20"/><rect x="1028" y="1" width="1" height="18"/>
<rect x="1139" y="0" width="1" height="20"/>
</g>
<g fill="#ffffff">
<rect x="205" y="0" width="1" height="20"/><rect x="573" y="0" width="1" height="20"/><rect x="879" y="0" width="1" height="20"/>
</g>
</g>
<use href="#grip" x="208"/><use href="#grip" x="576"/><use href="#grip" x="882"/>

<!-- texts -->
<g font-family='"Liberation Sans", "Noto Sans CJK SC", sans-serif' fill="#000">
<text x="-3.4" y="11.7" font-size="12px" textLength="37.2" lengthAdjust="spacingAndGlyphs" stroke="#000" stroke-width=".2">新订单</text>
<text x="148.9" y="11.7" font-size="12px" textLength="48.3" lengthAdjust="spacingAndGlyphs" stroke="#000" stroke-width=".2">自动交易</text>
<g font-size="10px" fill="#3a3a3a" text-anchor="middle" text-rendering="geometricPrecision">
<text transform="translate(899.9 13) scale(.92 1)">M1</text><text transform="translate(928 13) scale(.92 1)">M5</text><text transform="translate(956.5 13) scale(.92 1)">M15</text><text transform="translate(984.6 13) scale(.92 1)">M30</text><text transform="translate(1012.5 13) scale(.92 1)">H1</text><text transform="translate(1040 13) scale(.92 1)">H4</text><text transform="translate(1068.3 13) scale(.92 1)">D1</text><text transform="translate(1097 13) scale(.92 1)">W1</text><text transform="translate(1124.2 13) scale(.92 1)">MN</text>
</g>
</g>

<!-- icon: book -->
<path d="M50.8 1.9L60 8.1L61.1 10.7L53.4 17.1L44.9 10.9Q48.8 6.8 50.8 1.9z" fill="#b07a12"/>
<path d="M59.7 8.9L60.5 10.6L54 16L53.7 14.9z" fill="#efe6c0"/>
<path d="M51 3L59.2 8.4L53.5 14.5L46.7 10.3Q49.7 6.6 51 3z" fill="url(#gold)"/>
<path d="M46 11.3L53.2 15.8" stroke="#f2d572" stroke-width="1.1" fill="none"/>
<path d="M51.6 5.2L56.6 8.6" stroke="#fbe88a" stroke-width="1.2" fill="none" opacity=".7"/>
<!-- icon: server + cloud -->
<path d="M74.9 2.2L78 3.6V12H74.9z" fill="#0a7ae8"/><path d="M78 3.6L86 2V10.6H78z" fill="url(#srv)"/><path d="M74.9 2.2L82.6 1L86 2L78 3.6z" fill="#4f8fe8"/>
<path d="M78 3.6V11" stroke="#d8ecff" stroke-width=".6"/>
<rect x="79.8" y="5.2" width="4.8" height="1.2" fill="#e4f2ff"/><rect x="79.8" y="7.4" width="4.8" height=".8" fill="#7cc4ff"/>
<path d="M76.2 16.6a3.1 3.1 0 0 1 -.8 -6a3.3 3.3 0 0 1 5.8 -1.4a3.1 3.1 0 0 1 4.8 1.5a2.9 2.9 0 0 1 .2 5.9z" fill="url(#cloud)" stroke="#4a68a8" stroke-width=".9"/>
<!-- icon: signal -->
<circle cx="108.9" cy="8.7" r="7.6" fill="#f4f6f4"/>
<path d="M108.9 8.7V16.3A7.6 7.6 0 0 0 112.7 2.1z" fill="url(#sig2)"/>
<g fill="none" stroke="#3f6fd8" stroke-width="1"><path d="M108.9 16.3A7.6 7.6 0 1 1 112.7 2.1" opacity=".55" stroke-dasharray="2.2 .8"/><path d="M108.9 13.9A5.2 5.2 0 1 1 111.5 4.2" opacity=".6" stroke-dasharray="2 .7"/><path d="M108.9 11.5a2.8 2.8 0 1 1 1.4 -5.2" opacity=".7"/></g>
<g fill="none" stroke="#3f8f5f" stroke-width=".9"><path d="M112.7 2.1A7.6 7.6 0 0 1 108.9 16.3" opacity=".75"/><path d="M111.5 4.2A5.2 5.2 0 0 1 108.9 13.9" opacity=".5"/></g>
<circle cx="108.7" cy="8.5" r="1.9" fill="#2a50d0"/><path d="M109.5 9V16.4" stroke="#1fa81f" stroke-width="1.4"/>
<!-- icon: auto trading -->
<path d="M128.4 8.2L143.8 8L141 12.4L136.4 16.8L133.6 15z" fill="url(#face)" stroke="#c89818" stroke-width=".6" stroke-linejoin="round"/>
<ellipse cx="135.9" cy="6" rx="7.9" ry="2.5" fill="url(#hat)" stroke="#2f86b4" stroke-width=".7"/>
<path d="M132.2 5.6C132.2 0.2 139.6 0.2 139.6 5.6C137.6 6.8 134.2 6.8 132.2 5.6z" fill="#6cb8e4" stroke="#2f86b4" stroke-width=".6"/>
<circle cx="140.4" cy="12.7" r="4.2" fill="#e22408"/><circle cx="140.4" cy="12.7" r="4.2" fill="none" stroke="#c81800" stroke-width=".6"/><rect x="138.9" y="11.2" width="3.1" height="3.1" fill="#fff"/>

<!-- chart type icons -->
<use href="#axes" x="220"/><path d="M229.5 4.4V12.4M229.5 5.5H231.6M226.6 11.5H229.5" stroke="#108010" stroke-width="1.3" fill="none"/>
<use href="#axes" x="248"/><path d="M256.5 1V12.8" stroke="#108010" stroke-width="1.2"/><rect x="254.5" y="3.4" width="4" height="7.4" fill="#30e030" stroke="#108010" stroke-width=".9"/>
<use href="#axes" x="276"/><path d="M277.2 11.8C280 9.6 281.6 6.2 283.2 6.4C285 6.6 286.4 9.6 288.8 10.2" stroke="#2a8a2a" stroke-width="1.1" fill="none"/>
<!-- zoom in / out -->
<g>
<path d="M318 10.8L323.2 16" stroke="#9a7410" stroke-width="3" stroke-linecap="round"/><path d="M318 10.8L323.2 16" stroke="#f0cc40" stroke-width="1.6" stroke-linecap="round"/>
<circle cx="314" cy="6.8" r="5.3" fill="url(#lens)" stroke="#3a7bd0" stroke-width="1.2"/><path d="M311 6.8H317M314 3.8V9.8" stroke="#2f6f9f" stroke-width="1.5"/>
<path d="M346.1 10.8L351.3 16" stroke="#9a7410" stroke-width="3" stroke-linecap="round"/><path d="M346.1 10.8L351.3 16" stroke="#f0cc40" stroke-width="1.6" stroke-linecap="round"/>
<circle cx="342.1" cy="6.8" r="5.3" fill="url(#lens)" stroke="#3a7bd0" stroke-width="1.2"/><path d="M339.1 6.8H345.1" stroke="#2f6f9f" stroke-width="1.5"/>
</g>
<!-- tile windows -->
<g shape-rendering="crispEdges">
<rect x="364" y="1" width="8" height="8" fill="url(#tg)"/><rect x="372" y="1" width="8" height="8" fill="url(#tbl)"/>
<rect x="364" y="9" width="8" height="8" fill="url(#tbl)"/><rect x="372" y="9" width="8" height="8" fill="url(#tg)"/>
<g fill="#e8f4e8"><rect x="365" y="4" width="6" height="4"/><rect x="373" y="12" width="6" height="4"/></g>
<g fill="#e4ecfc"><rect x="373" y="4" width="6" height="4"/><rect x="365" y="12" width="6" height="4"/></g>
<g fill="#9ad09a"><rect x="366" y="5" width="4" height="1"/><rect x="374" y="13" width="4" height="1"/></g>
<g fill="#8aa8e8"><rect x="374" y="5" width="4" height="1"/><rect x="366" y="13" width="4" height="1"/></g>
</g>
<!-- autoscroll / shift -->
<use href="#axes" x="400"/><path d="M407 5V11.8L411 8.5z" fill="#30d030" stroke="#108a10" stroke-width=".7"/>
<use href="#axes" x="428"/><path d="M436.5 3.2V12.7" stroke="#1a6aa8" stroke-width="1.2"/><path d="M437.4 8.6H441.8M439.6 6.6L437.6 8.6L439.6 10.6" stroke="#d04010" stroke-width="1.1" fill="none"/>
<!-- new chart -->
<path d="M461.6 1.6H469L472.4 5V14.4H461.6z" fill="#fdfdfd" stroke="#8a8a8a" stroke-width=".8"/><path d="M469 1.6V5H472.4" fill="#e8e8e8" stroke="#8a8a8a" stroke-width=".6"/>
<path d="M464.4 4.6V11.6M464.4 5.6H466M463 10.6H464.4" stroke="#b0a080" stroke-width=".7" fill="none"/>
<path d="M469.2 7.4H473V10.9H476.6V14.7H473V18.4H469.2V14.7H465.6V10.9H469.2z" fill="url(#grn)" stroke="#0a8a0a" stroke-width=".7"/>
<use href="#dd" x="483" y="8"/>
<!-- clock -->
<circle cx="506.9" cy="8.8" r="7.6" fill="url(#clk)"/><circle cx="506.9" cy="8.8" r="5.4" fill="#f4f6fa"/>
<path d="M506.9 5V9H509.6" stroke="#333" stroke-width="1" fill="none"/><circle cx="506.9" cy="12.4" r=".6" fill="#6a9ae8"/>
<use href="#dd" x="522" y="8"/>
<!-- template -->
<rect x="538.6" y="2.2" width="15" height="13.6" fill="#fdfdfd" stroke="#2f6fd0" stroke-width="1"/><rect x="539" y="2.6" width="14.2" height="1.6" fill="#5a96e8"/>
<path d="M539 9.6H553.4" stroke="#2f6fd0" stroke-width=".8"/>
<path d="M540.4 8L543 7.6L545 6.6L547.4 7.2L549.4 6.2L552 6.4" stroke="#b02010" stroke-width="1.1" fill="none"/>
<path d="M541 13.6L543.6 13.2L545.4 12.4L547.2 13.2L549.4 11.6L552 13.6" stroke="#1a8a1a" stroke-width="1.1" fill="none"/>
<use href="#dd" x="561" y="8"/>
<!-- cursor -->
<path d="M590.6 2.4V13.6L593.3 11.2L595.2 15.4L596.9 14.6L595.1 10.6L598.6 10.4z" fill="#3a3a3a"/>
<!-- crosshair -->
<path d="M622.3 2.6V8M622.3 10.8V16.2M615 9.4H620.9M623.7 9.4H629.6" stroke="#3a3a3a" stroke-width="1.1" fill="none"/>
<!-- line tools -->
<path d="M656.7 3V16" stroke="#3a3a3a" stroke-width="1.1"/>
<path d="M679 9.4H691" stroke="#3a3a3a" stroke-width="1.1"/>
<path d="M706.8 16L719 3.8" stroke="#4a4a4a" stroke-width="1.1"/>
<!-- channel -->
<g stroke="#4a4a4a" stroke-width=".9" fill="none"><path d="M733 11L746 3.4M733 15.4L746 7.8M735.4 9.6L733.6 15M738.4 7.8L736.6 13.4M741.4 6.2L739.6 11.6M744.4 4.4L742.6 10M746 1.4L744.6 6"/></g>
<text x="743.6" y="17.6" font-family='"Liberation Sans", sans-serif' font-size="6.5px" font-weight="bold" fill="#333">E</text>
<!-- fibo -->
<g stroke="#4a4a4a" stroke-width="1" stroke-dasharray="1 1" fill="none"><path d="M762 2.5H775.6M762 6.5H775.6M762 9.5H775.6M762 13.5H771"/></g>
<text x="771.6" y="17.6" font-family='"Liberation Sans", sans-serif' font-size="6.5px" font-weight="bold" fill="#333">F</text>
<!-- A -->
<text x="792.6" y="13.8" font-family='"Liberation Sans", sans-serif' font-size="12.4px" fill="#4a4a4a" stroke="#4a4a4a" stroke-width=".3">A</text>
<!-- T box -->
<rect x="818.9" y="3.1" width="11.4" height="12.4" fill="none" stroke="#4a4a4a" stroke-width="1" stroke-dasharray="1 1"/>
<text x="820.6" y="13.8" font-family='"Liberation Sans", sans-serif' font-size="11px" font-weight="bold" fill="#4a4a4a">T</text>
<!-- arrows -->
<path d="M846.4 5.6L849 3L851.6 5.6L849 8.2z" fill="#3a3a3a"/><path d="M854.4 12.4L857 9.8L859.6 12.4L857 15z" fill="#3a3a3a"/>
<path d="M849.6 10.6L851.4 12.6L855.6 7.4" stroke="#3a3a3a" stroke-width="1.1" fill="none"/>
<use href="#dd" x="867" y="8"/>
<!-- search -->
<path d="M1606.7 9.3L1601.9 14.1" stroke="#2a55c0" stroke-width="2"/><circle cx="1609.75" cy="6.3" r="3.8" fill="#f4f7fd" stroke="#3866d0" stroke-width="1.1"/>
<!-- chat + badge -->
<path d="M1626.4 11.4a5.4 4.6 0 1 1 5 4.6l-2.4 2l.2 -2.6a5.2 4.4 0 0 1 -2.8 -4z" fill="#e4e6ee" stroke="#b4b4b8" stroke-width=".8"/>
<circle cx="1640.6" cy="6.8" r="8.3" fill="url(#badge)"/>
<text x="1640.4" y="11" font-family='"Liberation Sans", sans-serif' font-size="12.6px" fill="#fff" stroke="#fff" stroke-width=".45" text-anchor="middle">1</text>
</svg>

</div>
</body>
</html>
